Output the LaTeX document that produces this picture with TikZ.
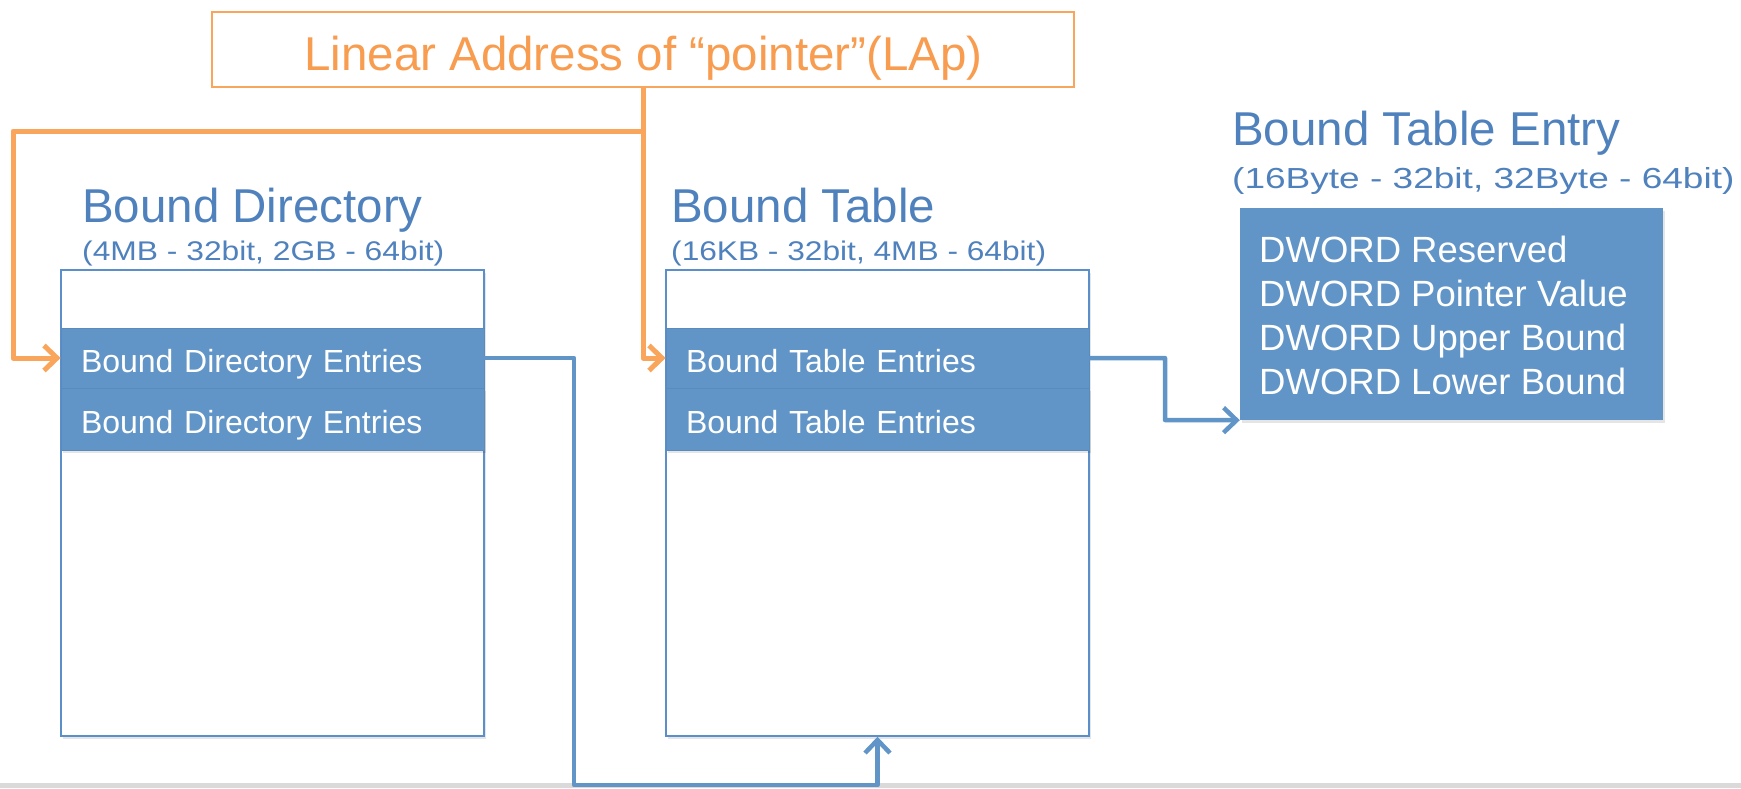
\documentclass[tikz,border=0pt]{standalone}
\usepackage{fontspec}
\setmainfont{Liberation Sans}
\usepackage{graphicx}
\usetikzlibrary{arrows.meta,shadows}
\definecolor{ttl}{HTML}{4F81BD}
\definecolor{fillb}{HTML}{6195C8}
\definecolor{rowedge}{HTML}{5A8BBF}
\definecolor{boxline}{HTML}{5B8FC9}
\definecolor{conb}{HTML}{6195C8}
\definecolor{org}{HTML}{F9A55C}
\definecolor{orgtxt}{HTML}{F89C50}
\definecolor{band}{HTML}{DADADA}
\newcommand{\fsz}[1]{\fontsize{#1}{#1}\selectfont}
\begin{document}
\begin{tikzpicture}[x=1pt,y=-1pt,
  softshadow/.style={drop shadow={shadow xshift=1.5pt, shadow yshift=-3pt, opacity=0.10, fill=black}},
  titletext/.style={anchor=base west, inner sep=0pt, text=ttl, font=\fsz{47.5}},
  subtext/.style={anchor=base west, inner sep=0pt, text=ttl, font=\fsz{27}},
  membox/.style={draw=boxline, line width=1.5pt, fill=white, minimum width=423pt, minimum height=466pt, inner sep=0pt, softshadow},
  rowbox/.style={draw=rowedge, line width=0.8pt, fill=fillb, minimum width=423pt, text width=383pt, inner xsep=20pt, inner ysep=0pt, text height=29pt, text depth=0pt, align=left, text=white, font=\fsz{32}},
  dwtext/.style={anchor=base west, inner sep=0pt, text=white, font=\fsz{36.5}},
  oline/.style={draw=org, line width=5pt, line join=round, -{Straight Barb[length=13pt,width=25pt]}},
  bline/.style={draw=conb, line width=4.5pt, line join=round, -{Straight Barb[length=13pt,width=25pt]}}
]
\useasboundingbox (0,0) rectangle (1741,788);
\fill[band] (0,783) rectangle (1741,788);

% top orange box
\node[draw=org, line width=2.5pt, fill=white, minimum width=862pt, minimum height=75pt, inner sep=0pt] (lapbox) at (643,49.5) {};
\node[anchor=base, inner sep=0pt, text=orgtxt, font=\fsz{47.5}] (laptext) at (643.5,70) {Linear Address of “pointer”(LAp)};

% Bound Directory
\node[titletext] (bdtitle) at (82,222) {Bound Directory};
\node[subtext] (bdsub) at (82,260) {\scalebox{1.177}[1]{(4MB - 32bit, 2GB - 64bit)}};
\node[membox] (bd) at (272.5,503) {};
\node[rowbox, minimum height=60pt] (bd1) at (272.5,358) {Bound Directory Entries};
\node[rowbox, minimum height=62pt, softshadow] (bd2) at (272.5,419) {Bound Directory Entries};

% Bound Table
\node[titletext] (bttitle) at (671,222) {Bound Table};
\node[subtext] (btsub) at (671,260) {\scalebox{1.173}[1]{(16KB - 32bit, 4MB - 64bit)}};
\node[membox] (bt) at (877.5,503) {};
\node[rowbox, minimum height=60pt] (bt1) at (877.5,358) {Bound Table Entries};
\node[rowbox, minimum height=62pt, softshadow] (bt2) at (877.5,419) {Bound Table Entries};

% Bound Table Entry
\node[titletext] (btetitle) at (1232,145) {Bound Table Entry};
\node[anchor=base west, inner sep=0pt, text=ttl, font=\fsz{29}] (btesub) at (1232,188) {\scalebox{1.277}[1]{(16Byte - 32bit, 32Byte - 64bit)}};
\node[fill=fillb, minimum width=423pt, minimum height=212pt, inner sep=0pt, softshadow] (bte) at (1451.5,314) {};
\node[dwtext] (dw1) at (1259,262) {DWORD Reserved};
\node[dwtext] (dw2) at (1259,306) {DWORD Pointer Value};
\node[dwtext] (dw3) at (1259,350) {DWORD Upper Bound};
\node[dwtext] (dw4) at (1259,394) {DWORD Lower Bound};

% orange connectors
\coordinate (oj) at (643,131);
\coordinate (ol) at (13,131);
\draw[oline] (lapbox.south) -- (oj) -- (ol) |- (bd1.west);
\draw[oline] (oj) |- (bt1.west);

% blue connectors
\coordinate (bj) at (574,785);
\draw[bline] (bd1.east) -| (bj) -| (bt.south);
\coordinate (bk) at (1165,420);
\draw[bline] (bt1.east) -| (bk) -- (bte.south west);
\end{tikzpicture}
\end{document}
